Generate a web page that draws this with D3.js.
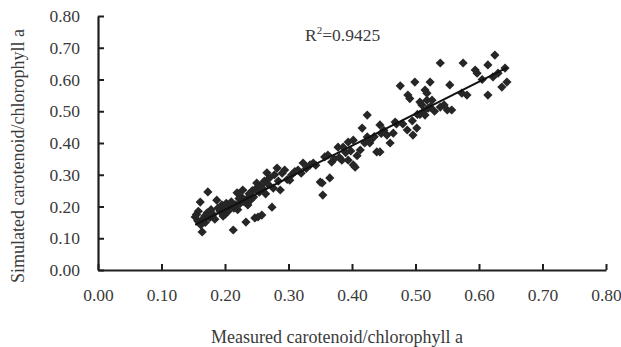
<!DOCTYPE html>
<html>
<head>
<meta charset="utf-8">
<script src="https://cdn.jsdelivr.net/npm/d3@7"></script>
<style>
  html, body { margin: 0; padding: 0; background: #fff; }
  svg { display: block; }
  text { font-family: "Liberation Serif", "Times New Roman", serif; }
</style>
</head>
<body>
<svg id="chart" width="621" height="347"></svg>
<script>
// Measured vs simulated carotenoid / chlorophyll a ratios
const measured = [
  0.153,0.155,0.157,0.158,0.161,0.162,0.164,0.165,0.168,0.169,0.173,0.172,0.176,0.178,0.181,0.184,
  0.187,0.189,0.192,0.195,0.197,0.199,0.200,0.202,0.205,0.207,0.210,0.213,0.214,0.217,0.219,0.220,
  0.222,0.224,0.226,0.228,0.230,0.233,0.235,0.236,0.238,0.240,0.243,0.245,0.247,0.248,0.250,0.252,
  0.254,0.256,0.258,0.260,0.262,0.264,0.266,0.268,0.270,0.274,0.276,0.278,0.282,0.284,0.287,0.290,
  0.294,0.298,0.302,0.305,0.310,0.315,0.320,0.323,0.328,0.334,0.339,0.343,0.350,0.353,0.354,0.357,
  0.362,0.365,0.368,0.372,0.378,0.380,0.384,0.386,0.390,0.394,0.394,0.398,0.402,0.402,0.405,0.408,
  0.413,0.416,0.420,0.424,0.424,0.428,0.430,0.435,0.439,0.444,0.444,0.446,0.450,0.455,0.460,0.465,
  0.468,0.470,0.476,0.480,0.487,0.488,0.491,0.495,0.496,0.499,0.502,0.503,0.507,0.507,0.510,0.513,
  0.515,0.515,0.518,0.518,0.520,0.523,0.523,0.526,0.530,0.539,0.539,0.545,0.550,0.554,0.557,0.573,
  0.575,0.581,0.594,0.597,0.605,0.614,0.614,0.622,0.625,0.630,0.636,0.641,0.644
];
const simulated = [
  0.167,0.175,0.155,0.185,0.214,0.142,0.120,0.160,0.170,0.150,0.246,0.180,0.165,0.190,0.175,0.160,
  0.220,0.195,0.185,0.205,0.170,0.190,0.175,0.210,0.185,0.200,0.215,0.126,0.195,0.205,0.243,0.190,
  0.225,0.210,0.230,0.252,0.215,0.151,0.225,0.205,0.240,0.220,0.250,0.230,0.164,0.255,0.274,0.167,
  0.245,0.265,0.173,0.255,0.280,0.240,0.306,0.270,0.290,0.198,0.258,0.300,0.321,0.280,0.252,0.305,
  0.315,0.285,0.283,0.300,0.310,0.315,0.305,0.337,0.320,0.331,0.337,0.330,0.277,0.274,0.236,0.356,
  0.362,0.290,0.340,0.350,0.387,0.355,0.346,0.387,0.370,0.403,0.346,0.375,0.331,0.409,0.324,0.360,
  0.378,0.447,0.400,0.488,0.419,0.400,0.410,0.420,0.372,0.372,0.457,0.430,0.440,0.425,0.400,0.431,
  0.466,0.460,0.580,0.460,0.441,0.551,0.540,0.470,0.425,0.592,0.447,0.490,0.490,0.529,0.520,0.500,
  0.567,0.488,0.535,0.557,0.510,0.592,0.513,0.535,0.500,0.652,0.513,0.520,0.504,0.583,0.504,0.557,
  0.652,0.551,0.630,0.620,0.600,0.646,0.551,0.608,0.677,0.620,0.576,0.636,0.592
];
const xTicks = [0, 0.1, 0.2, 0.3, 0.4, 0.5, 0.6, 0.7, 0.8];
const yTicks = [0, 0.1, 0.2, 0.3, 0.4, 0.5, 0.6, 0.7, 0.8];
const xTitle = "Measured carotenoid/chlorophyll a";
const yTitle = "Simulated carotenoid/chlorophyll a";
const r2Label = "0.9425";

const points = measured.map((m, i) => ({ x: m, y: simulated[i] }));

const svg = d3.select("#chart");
const x = d3.scaleLinear().domain([0, 0.8]).range([98, 606]);
const y = d3.scaleLinear().domain([0, 0.8]).range([270, 16]);
const ink = "#1e1e1e";
const labelInk = "#3a3a3a";
const serif = '"Liberation Serif", "Times New Roman", serif';

// Axes with inward ticks
const xAxis = svg.append("g")
  .attr("transform", `translate(0,${y(0)})`)
  .call(d3.axisBottom(x).tickValues(xTicks).tickFormat(d3.format(".2f"))
    .tickSizeInner(-6).tickSizeOuter(0).tickPadding(19));
const yAxis = svg.append("g")
  .attr("transform", `translate(${x(0)},0)`)
  .call(d3.axisLeft(y).tickValues(yTicks).tickFormat(d3.format(".2f"))
    .tickSizeInner(-6).tickSizeOuter(0).tickPadding(18));

[xAxis, yAxis].forEach(g => {
  g.select(".domain").attr("stroke", ink).attr("stroke-width", 2.2);
  g.selectAll(".tick line").attr("stroke", ink).attr("stroke-width", 2);
  g.selectAll(".tick text")
    .attr("fill", labelInk)
    .style("font-family", serif)
    .style("font-size", "17.5px");
});

// Least-squares fit drawn across the measured range
const mx = d3.mean(points, d => d.x), my = d3.mean(points, d => d.y);
const slope = d3.sum(points, d => (d.x - mx) * (d.y - my)) / d3.sum(points, d => (d.x - mx) ** 2);
const intercept = my - slope * mx;
const [x0, x1] = d3.extent(points, d => d.x);

// Diamond markers
const r = 4.6;
const diamond = `M0,${-r}L${r},0L0,${r}L${-r},0Z`;
svg.append("g").selectAll("path")
  .data(points)
  .join("path")
  .attr("d", diamond)
  .attr("transform", d => `translate(${x(d.x)},${y(d.y)})`)
  .attr("fill", "#262626");

svg.append("line")
  .attr("x1", x(x0)).attr("y1", y(intercept + slope * x0))
  .attr("x2", x(x1)).attr("y2", y(intercept + slope * x1))
  .attr("stroke", "#111").attr("stroke-width", 2);

// Coefficient of determination
const r2 = svg.append("text")
  .attr("x", 305).attr("y", 41)
  .attr("fill", labelInk)
  .style("font-size", "17.5px");
r2.append("tspan").text("R");
r2.append("tspan").attr("dy", -7).style("font-size", "11px").text("2");
r2.append("tspan").attr("dy", 7).text("=" + r2Label);

// Axis titles
svg.append("text")
  .attr("x", 337).attr("y", 343)
  .attr("text-anchor", "middle")
  .attr("fill", labelInk)
  .style("font-size", "18px")
  .text(xTitle);
svg.append("text")
  .attr("transform", "translate(24,156) rotate(-90)")
  .attr("text-anchor", "middle")
  .attr("fill", labelInk)
  .style("font-size", "18px")
  .text(yTitle);
</script>
</body>
</html>
